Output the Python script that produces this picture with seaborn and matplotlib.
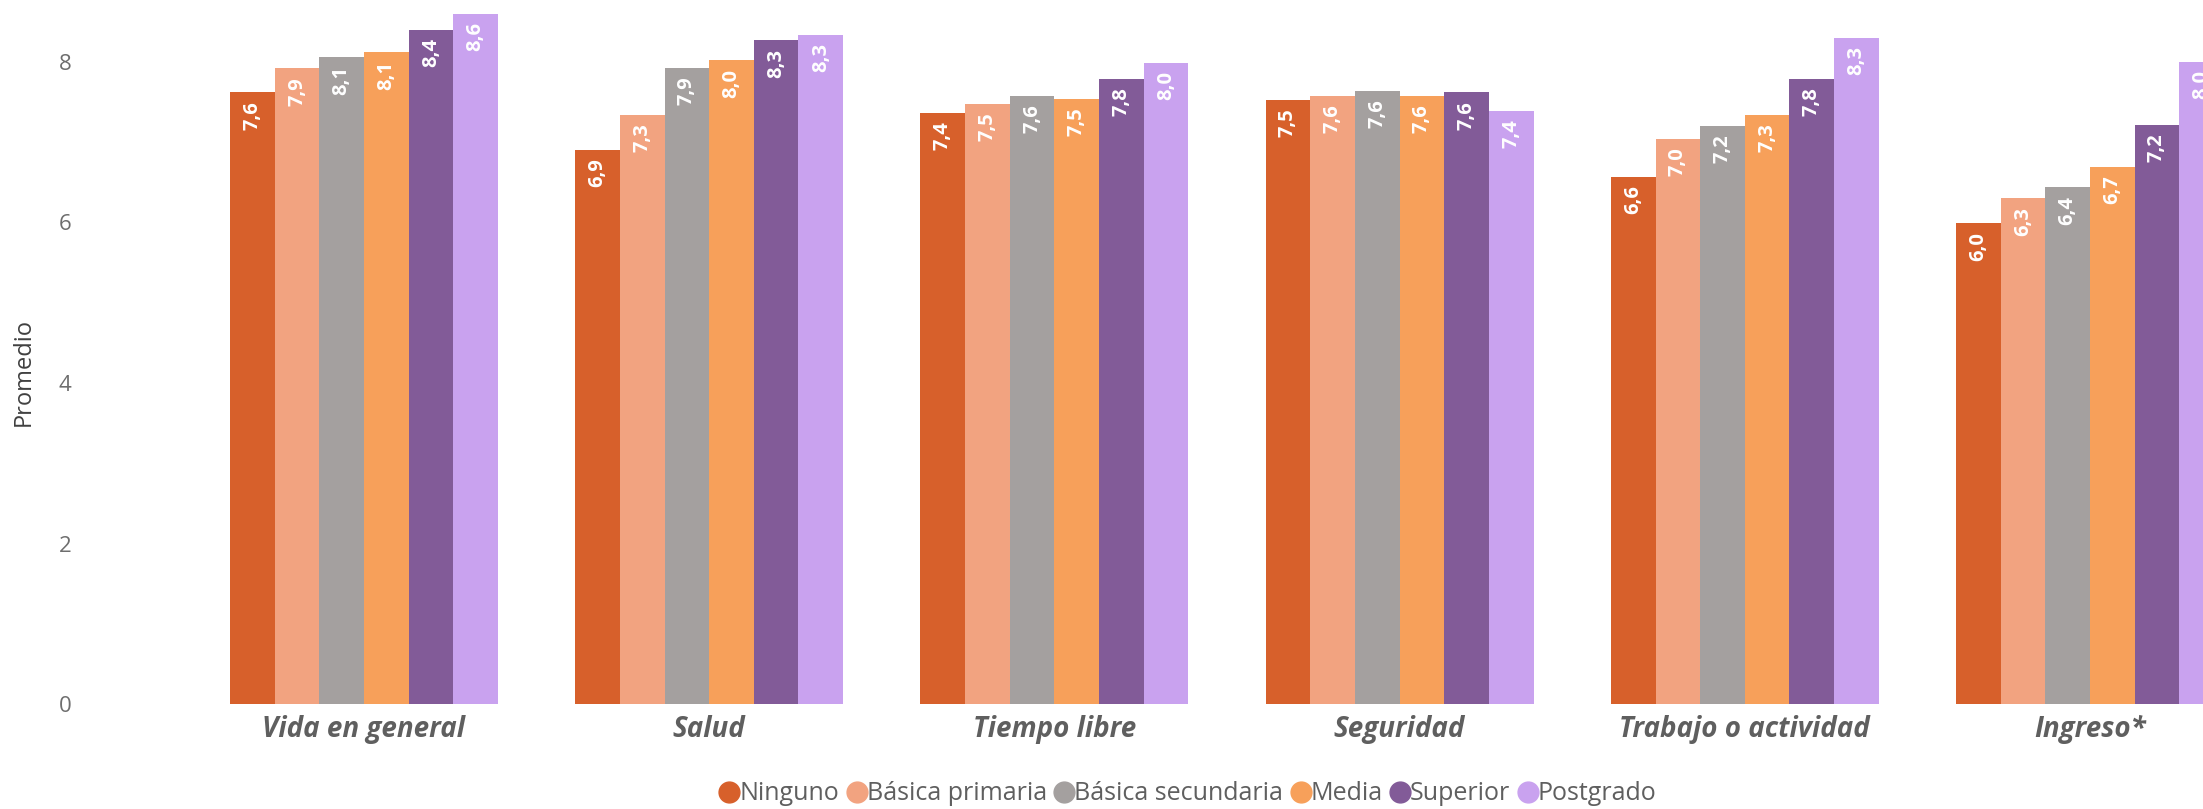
import matplotlib
matplotlib.use("Agg")
import matplotlib.pyplot as plt
from matplotlib.lines import Line2D
import seaborn as sns
import pandas as pd

categorias = ["Vida en general", "Salud", "Tiempo libre", "Seguridad",
              "Trabajo o actividad", "Ingreso*"]
niveles = ["Ninguno", "Básica primaria", "Básica secundaria", "Media",
           "Superior", "Postgrado"]
ninguno = [7.62, 6.90, 7.37, 7.53, 6.57, 5.99]
basica_primaria = [7.92, 7.34, 7.48, 7.58, 7.04, 6.30]
basica_secundaria = [8.06, 7.93, 7.58, 7.64, 7.20, 6.44]
media = [8.12, 8.02, 7.54, 7.58, 7.34, 6.69]
superior = [8.40, 8.27, 7.79, 7.62, 7.79, 7.22]
postgrado = [8.60, 8.34, 7.99, 7.39, 8.30, 8.00]
colores = ["#D7602B", "#F2A380", "#A4A09F", "#F7A05A", "#825B98", "#C9A2EF"]
y_ticks = [0, 2, 4, 6, 8]

series = [ninguno, basica_primaria, basica_secundaria, media, superior, postgrado]
rows = []
for nivel, vals in zip(niveles, series):
    for cat, v in zip(categorias, vals):
        rows.append({"categoria": cat, "nivel": nivel, "valor": v})
df = pd.DataFrame(rows)

sns.set_theme(style="white")
plt.rcParams["font.family"] = ["Open Sans", "DejaVu Sans"]

W, H = 2203, 809
fig = plt.figure(figsize=(W / 100, H / 100), dpi=100)
ax_left = 80
ax_bottom = 704
ax = fig.add_axes([ax_left / W, (H - ax_bottom) / H, (W - ax_left) / W, ax_bottom / H])

sns.barplot(data=df, x="categoria", y="valor", hue="nivel", order=categorias,
            hue_order=niveles, palette=colores, saturation=1, width=0.776,
            gap=0, legend=False, linewidth=0, edgecolor="none", ax=ax)

center0, spacing = 364, 345.2
ax.set_xlim((ax_left - center0) / spacing, (W - center0) / spacing)
ax.set_ylim(0, ax_bottom / 80.25)
ax.set_yticks(y_ticks)
ax.set_yticklabels([str(t) for t in y_ticks])
ax.tick_params(axis="y", length=0, pad=6, labelsize=16, labelcolor="#6E6E6E")
ax.tick_params(axis="x", length=0, pad=8, labelsize=20, labelcolor="#5F5F5F")
for lab in ax.get_xticklabels():
    lab.set_fontweight("bold")
    lab.set_fontstyle("italic")
ax.set_xlabel("")
ax.set_ylabel("")
for s in ax.spines.values():
    s.set_visible(False)

for cont in ax.containers:
    for bar in cont:
        h = bar.get_height()
        ax.annotate(f"{h:.1f}".replace(".", ","),
                    xy=(bar.get_x() + bar.get_width() / 2, h),
                    xytext=(0, -6), textcoords="offset points",
                    rotation=90, ha="center", va="top", color="white",
                    fontsize=14.5, fontweight="bold")

fig.text(24 / W, 1 - 372 / H, "Promedio", rotation=90, ha="center", va="center",
         fontsize=17, color="#404040")

handles = [Line2D([0], [0], marker="o", linestyle="", markersize=15,
                  markerfacecolor=c, markeredgecolor=c) for c in colores]
fig.legend(handles, niveles, loc="center", bbox_to_anchor=(1188 / W, 1 - 794 / H),
           ncol=6, frameon=False, fontsize=18, labelcolor="#5F5F5F",
           handletextpad=0.0, columnspacing=0.3, handlelength=0.8)

fig.savefig("out.png", dpi=100)
